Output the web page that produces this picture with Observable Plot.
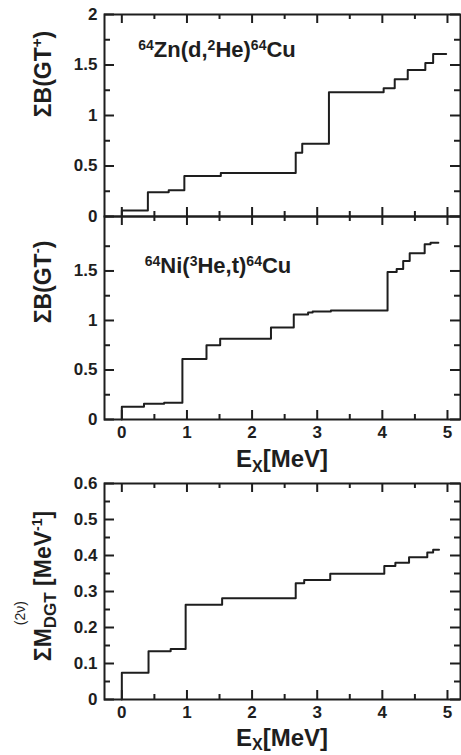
<!DOCTYPE html>
<html><head><meta charset="utf-8">
<script src="https://cdn.jsdelivr.net/npm/d3@7"></script>
<script src="https://cdn.jsdelivr.net/npm/@observablehq/plot@0.6"></script>
<style>
body{margin:0;background:#fff}
#chart{position:relative;width:461px;height:755px;overflow:hidden}
#chart svg{position:absolute;left:0;top:0}
</style></head><body><div id="chart"></div>
<script>
// ---------- data ----------
// 64Zn(d,2He)64Cu : cumulative B(GT+) vs Ex [MeV]
const gtPlusE = [0, 0, 0.40, 0.72, 0.96, 1.52, 2.67, 2.77, 3.18, 4.02, 4.19, 4.39, 4.66, 4.78, 4.98];
const gtPlusB = [0, 0.06, 0.24, 0.26, 0.40, 0.43, 0.63, 0.72, 1.23, 1.27, 1.36, 1.45, 1.52, 1.61, 1.61];
// 64Ni(3He,t)64Cu : cumulative B(GT-)
const gtMinusE = [0, 0, 0.34, 0.65, 0.93, 1.30, 1.51, 2.29, 2.64, 2.86, 2.93, 3.21, 4.08, 4.22, 4.32, 4.42, 4.65, 4.74, 4.86];
const gtMinusB = [0, 0.13, 0.16, 0.17, 0.61, 0.75, 0.815, 0.93, 1.06, 1.08, 1.09, 1.10, 1.49, 1.52, 1.60, 1.68, 1.77, 1.785, 1.785];
// cumulative M_DGT(2nu)
const dgtE = [0, 0, 0.41, 0.75, 0.98, 1.54, 2.67, 2.80, 3.20, 4.03, 4.20, 4.41, 4.69, 4.78, 4.87];
const dgtM = [0, 0.074, 0.134, 0.140, 0.263, 0.281, 0.323, 0.332, 0.349, 0.371, 0.380, 0.395, 0.408, 0.416, 0.416];

const xMajor = [0, 1, 2, 3, 4, 5];
const xMinor = [0.5, 1.5, 2.5, 3.5, 4.5];
const xLabels = ["0", "1", "2", "3", "4", "5"];
const topYMajor = [0, 0.5, 1, 1.5, 2];
const topYMinor = [0.25, 0.75, 1.25, 1.75];
const topYLabels = ["0", "0.5", "1", "1.5", "2"];
const midYMajor = [0, 0.5, 1, 1.5];
const midYMinor = [0.25, 0.75, 1.25, 1.75];
const midYLabels = ["0", "0.5", "1", "1.5"];
const botYMajor = [0, 0.1, 0.2, 0.3, 0.4, 0.5, 0.6];
const botYMinor = [0.05, 0.15, 0.25, 0.35, 0.45, 0.55];
const botYLabels = ["0", "0.1", "0.2", "0.3", "0.4", "0.5", "0.6"];

// ---------- layout ----------
const W = 461, H = 755, INK = "#1e1e1e";
const FONT = "Liberation Sans, Arial, sans-serif";
const xDomain = [-0.266, 5.2];
const L = 104, R = 460;

function panel(o) {
  const fh = o.bottom - o.top, fw = R - L;
  const data = o.E.map((e, i) => ({e, v: o.V[i]}));
  const tk = {stroke: INK, strokeWidth: 2};
  const marks = [
    Plot.ruleX(xMajor, {x: d => d, insetTop: fh - 9, ...tk}),
    Plot.ruleX(xMajor, {x: d => d, insetBottom: fh - 9, ...tk}),
    Plot.ruleX(xMinor, {x: d => d, insetTop: fh - 5, ...tk}),
    Plot.ruleX(xMinor, {x: d => d, insetBottom: fh - 5, ...tk}),
    Plot.ruleY(o.yMajor, {y: d => d, insetRight: fw - 10, ...tk}),
    Plot.ruleY(o.yMajor, {y: d => d, insetLeft: fw - 10, ...tk}),
    Plot.ruleY(o.yMinor, {y: d => d, insetRight: fw - 6, ...tk}),
    Plot.ruleY(o.yMinor, {y: d => d, insetLeft: fw - 6, ...tk}),
    Plot.line(data, {x: "e", y: "v", curve: "step-after", stroke: INK, strokeWidth: 2}),
    Plot.frame({stroke: INK, strokeWidth: 2}),
    Plot.axisY({ticks: o.yMajor, tickSize: 0, tickPadding: 7, label: null,
      tickFormat: d => o.yLabels[o.yMajor.indexOf(d)], fontSize: 17, fontWeight: "bold", fill: INK})
  ];
  if (o.xAxis) marks.push(Plot.axisX({ticks: xMajor, tickSize: 0, tickPadding: 6, label: null,
      tickFormat: d => xLabels[xMajor.indexOf(d)], fontSize: 17, fontWeight: "bold", fill: INK}));
  return Plot.plot({
    width: W, height: H,
    marginTop: o.top, marginBottom: H - o.bottom, marginLeft: L, marginRight: W - R,
    x: {domain: xDomain, axis: o.xAxis ? undefined : null},
    y: {domain: o.yDomain},
    style: {fontFamily: FONT, fontWeight: "bold", fontSize: "17px", background: "transparent", overflow: "visible", color: INK},
    marks
  });
}

// rich text helper: segments {t, size, shift}
function rich(sel, segs, weight) {
  let prev = 0;
  segs.forEach(s => {
    const sh = s.shift || 0;
    sel.append("tspan").attr("dy", sh - prev).attr("font-size", s.size)
      .attr("font-weight", s.weight || weight || "bold").text(s.t);
    prev = sh;
  });
  return sel;
}

const chart = d3.select("#chart");

// ---- top panel ----
const p1 = panel({top: 14, bottom: 216, yDomain: [0, 2], yMajor: topYMajor, yMinor: topYMinor,
  yLabels: topYLabels, E: gtPlusE, V: gtPlusB, xAxis: false});
chart.node().appendChild(p1);
{
  const s = d3.select(p1), x = p1.scale("x"), y = p1.scale("y");
  rich(s.append("text").attr("x", x.apply(0.26)).attr("y", y.apply(1.575)).attr("text-anchor", "start")
    .attr("font-family", FONT).attr("fill", INK),
    [{t: "64", size: 14, shift: -7}, {t: "Zn(d,", size: 22}, {t: "2", size: 14, shift: -7},
     {t: "He)", size: 22}, {t: "64", size: 14, shift: -7}, {t: "Cu", size: 22}]);
  const g = s.append("g").attr("transform", "translate(51,74) rotate(-90)");
  rich(g.append("text").attr("text-anchor", "middle").attr("font-family", FONT).attr("fill", INK),
    [{t: "\u03A3B(GT", size: 23}, {t: "+", size: 15, shift: -9}, {t: ")", size: 23}]);
}

// ---- middle panel ----
const p2 = panel({top: 216, bottom: 419, yDomain: [0, 2.05], yMajor: midYMajor, yMinor: midYMinor,
  yLabels: midYLabels, E: gtMinusE, V: gtMinusB, xAxis: true});
chart.node().appendChild(p2);
{
  const s = d3.select(p2), x = p2.scale("x"), y = p2.scale("y");
  rich(s.append("text").attr("x", x.apply(0.36)).attr("y", y.apply(1.475)).attr("text-anchor", "start")
    .attr("font-family", FONT).attr("fill", INK),
    [{t: "64", size: 14, shift: -7}, {t: "Ni(", size: 22}, {t: "3", size: 14, shift: -7},
     {t: "He,t)", size: 22}, {t: "64", size: 14, shift: -7}, {t: "Cu", size: 22}]);
  const g = s.append("g").attr("transform", "translate(51,282) rotate(-90)");
  rich(g.append("text").attr("text-anchor", "middle").attr("font-family", FONT).attr("fill", INK),
    [{t: "\u03A3B(GT", size: 23}, {t: "-", size: 15, shift: -9}, {t: ")", size: 23}]);
  rich(s.append("text").attr("x", (L + R) / 2).attr("y", 467).attr("text-anchor", "middle")
    .attr("font-family", FONT).attr("fill", INK),
    [{t: "E", size: 24}, {t: "X", size: 16, shift: 5}, {t: "[MeV]", size: 24}]);
}

// ---- bottom panel ----
const p3 = panel({top: 483, bottom: 699, yDomain: [0, 0.6], yMajor: botYMajor, yMinor: botYMinor,
  yLabels: botYLabels, E: dgtE, V: dgtM, xAxis: true});
chart.node().appendChild(p3);
{
  const s = d3.select(p3);
  rich(s.append("text").attr("x", (L + R) / 2).attr("y", 746).attr("text-anchor", "middle")
    .attr("font-family", FONT).attr("fill", INK),
    [{t: "E", size: 24}, {t: "X", size: 16, shift: 4}, {t: "[MeV]", size: 24}]);
  const g = s.append("g").attr("transform", "translate(51,586) rotate(-90)");
  const t = rich(g.append("text").attr("text-anchor", "middle").attr("font-family", FONT).attr("fill", INK),
    [{t: "\u03A3M", size: 23}, {t: "DGT", size: 17, shift: 5}, {t: " [MeV", size: 23},
     {t: "-1", size: 14, shift: -9}, {t: "]", size: 23}]);
  const total = t.node().getComputedTextLength();
  const wSM = t.node().getSubStringLength(0, 2);
  rich(g.append("text").attr("x", -total / 2 + wSM + 3).attr("y", -26).attr("text-anchor", "start")
    .attr("font-family", FONT).attr("fill", INK),
    [{t: "(2\u03BD)", size: 14}], "normal");
}
</script></body></html>
